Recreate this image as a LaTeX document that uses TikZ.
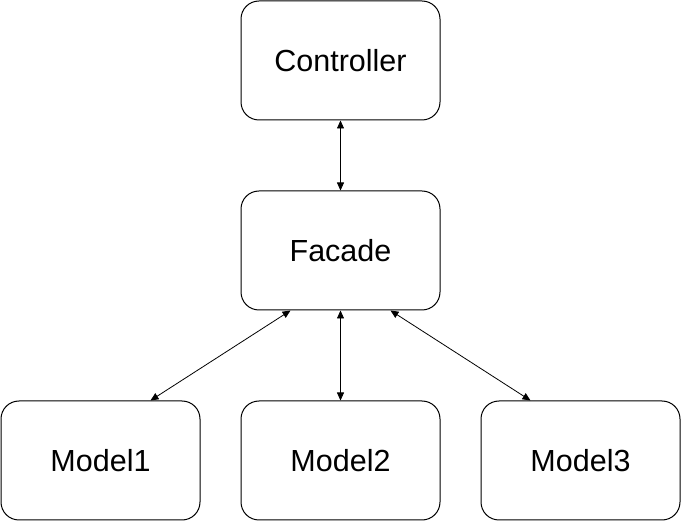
\documentclass[tikz,border=0pt]{standalone}
\usepackage{fontspec}
\setmainfont{Liberation Sans}
\usetikzlibrary{arrows.meta}
\begin{document}
\begin{tikzpicture}[x=1pt,y=-1pt,
  box/.style={draw,line width=1pt,rounded corners=18pt,minimum width=199pt,minimum height=119pt,inner sep=0pt,font=\fontsize{30.5}{36}\selectfont},
  conn/.style={line width=0.8pt,{Triangle[length=8pt,width=7pt]}-{Triangle[length=8pt,width=7pt]}}]
\useasboundingbox (0,0) rectangle (681,521);
\node[box] (ctrl) at (340.5,60.5) {Controller};
\node[box] (fac) at (340.5,250.5) {Facade};
\node[box] (m1) at (100.5,460.5) {Model1};
\node[box] (m2) at (340.5,460.5) {Model2};
\node[box] (m3) at (580.5,460.5) {Model3};
\coordinate (f1) at ([xshift=-50pt]fac.south);
\coordinate (f3) at ([xshift=50pt]fac.south);
\coordinate (t1) at ([xshift=50pt]m1.north);
\coordinate (t3) at ([xshift=-50pt]m3.north);
\draw[conn] (ctrl.south) -- (fac.north);
\draw[conn] (f1) -- (t1);
\draw[conn] (fac.south) -- (m2.north);
\draw[conn] (f3) -- (t3);
\end{tikzpicture}
\end{document}
